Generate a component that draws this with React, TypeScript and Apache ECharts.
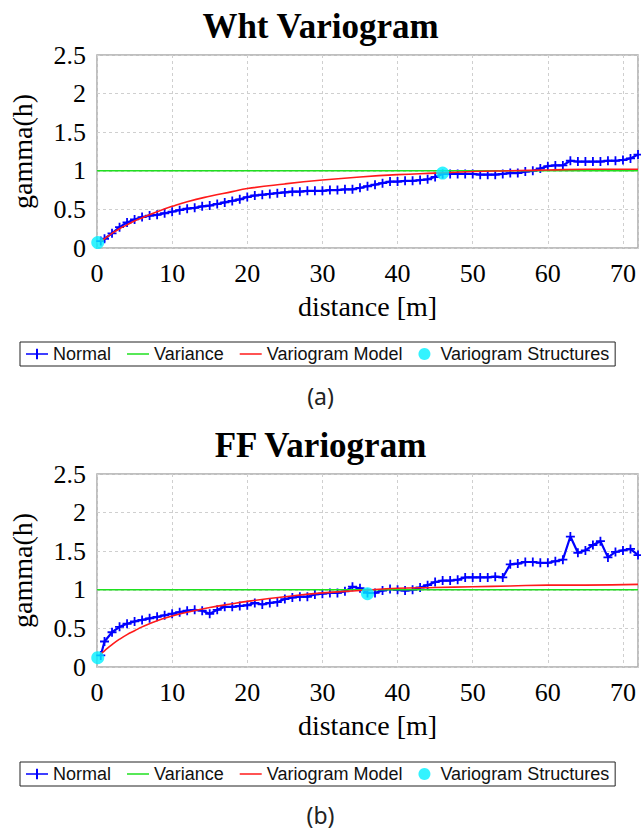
import React, { useEffect, useRef } from "react";
import * as echarts from "echarts";

// Lag distances [m] of the experimental variograms
const lags = [
  0.5, 1, 2, 3, 4, 5, 6, 7, 8, 9, 10, 11, 12, 13, 14, 15, 16, 17, 18, 19, 20,
  21, 22, 23, 24, 25, 26, 27, 28, 29, 30, 31, 32, 33, 34, 35, 36, 37, 38, 39, 40,
  41, 42, 43, 44, 45, 46, 47, 48, 49, 50, 51, 52, 53, 54, 55, 56, 57, 58, 59, 60,
  61, 62, 63, 64, 65, 66, 67, 68, 69, 70, 71, 72,
];

// Experimental (normal-score) variogram values
const whtNormal = [
  0.09, 0.12, 0.19, 0.27, 0.33, 0.37, 0.4, 0.42, 0.43, 0.45, 0.47,
  0.49, 0.51, 0.52, 0.54, 0.55, 0.57, 0.59, 0.61, 0.63, 0.66,
  0.68, 0.69, 0.7, 0.71, 0.72, 0.73, 0.73, 0.74, 0.74, 0.74,
  0.75, 0.75, 0.76, 0.76, 0.78, 0.8, 0.82, 0.84, 0.86, 0.86,
  0.87, 0.87, 0.88, 0.89, 0.92, 0.96, 0.96, 0.96, 0.96, 0.96,
  0.95, 0.95, 0.95, 0.96, 0.97, 0.97, 0.99, 1.0, 1.03, 1.06,
  1.07, 1.07, 1.13, 1.12, 1.12, 1.12, 1.12, 1.13, 1.13, 1.14, 1.16, 1.21,
];

const ffNormal = [
  0.15, 0.33, 0.45, 0.52, 0.56, 0.59, 0.61, 0.63, 0.65, 0.67, 0.69,
  0.71, 0.73, 0.74, 0.73, 0.69, 0.74, 0.78, 0.78, 0.79, 0.8,
  0.83, 0.81, 0.83, 0.84, 0.88, 0.9, 0.91, 0.91, 0.94, 0.95,
  0.96, 0.96, 0.98, 1.04, 1.02, 0.96, 0.96, 0.99, 1.01, 1.0,
  0.99, 1.0, 1.03, 1.06, 1.1, 1.12, 1.12, 1.13, 1.16, 1.16,
  1.16, 1.16, 1.17, 1.16, 1.33, 1.34, 1.36, 1.36, 1.35, 1.35,
  1.37, 1.39, 1.69, 1.48, 1.51, 1.58, 1.63, 1.42, 1.49, 1.51, 1.53, 1.45,
];

// Fitted variogram models, sampled along the distance axis
const modelLags = [0.5, 1, 2, 3, 4, 5, 6, 8, 10, 12, 15, 18, 20, 25, 30, 35, 40, 45, 50, 55, 60, 65, 72];
const whtModel = [0.09, 0.12, 0.19, 0.25, 0.3, 0.35, 0.39, 0.47, 0.54, 0.6, 0.67, 0.73, 0.77, 0.83, 0.88, 0.92, 0.95, 0.97, 0.99, 1.0, 1.01, 1.02, 1.02];
const ffModel = [0.17, 0.21, 0.29, 0.36, 0.42, 0.47, 0.52, 0.6, 0.66, 0.71, 0.77, 0.82, 0.85, 0.91, 0.96, 0.99, 1.02, 1.03, 1.04, 1.05, 1.06, 1.06, 1.07];

// Sill (variance) lines
const varianceRange = [0, 72];
const whtVariance = 1.0;
const ffVariance = 1.0;

// Variogram structure points [distance, gamma]
const whtStructures = [[0.1, 0.07], [46, 0.97]];
const ffStructures = [[0.1, 0.12], [36, 0.95]];

const titles = ["Wht Variogram", "FF Variogram"];
const captions = ["(a)", "(b)"];
const legendNames = ["Normal", "Variance", "Variogram Model", "Variogram Structures"];

const SERIF = "'Liberation Serif', 'Times New Roman', serif";
const SANS = "'Liberation Sans', Arial, sans-serif";
const PLUS = "path://M4,0H6V4H10V6H6V10H4V6H0V4H4Z";
// Legend glyphs: a short line, and a short line crossed by a tick
const LINE_ICON = "path://M0,0H44V3H0Z";
const PLUS_LINE_ICON = "path://M0,9H44V12H0Z M20,0H24V21H20Z";

const pair = (xs: number[], ys: number[]) => xs.map((x, i) => [x, ys[i]]);

function axesFor(idx: number) {
  const xAxis = {
    type: "value",
    gridIndex: idx,
    min: 0,
    max: 72,
    interval: 10,
    axisLine: { show: false },
    axisTick: { show: false },
    splitLine: { show: true, lineStyle: { color: "#cfcfcf", type: [3, 3], width: 1 } },
    axisLabel: {
      color: "#000",
      fontFamily: SERIF,
      fontSize: 26,
      margin: 12,
      formatter: (v: number) => (v % 10 === 0 ? String(v) : ""),
    },
    name: "distance [m]",
    nameLocation: "middle",
    nameGap: 44,
    nameTextStyle: { color: "#000", fontFamily: SERIF, fontSize: 28 },
  };
  const yAxis = {
    type: "value",
    gridIndex: idx,
    min: 0,
    max: 2.5,
    interval: 0.5,
    axisLine: { show: false },
    axisTick: { show: false },
    splitLine: { show: true, lineStyle: { color: "#cfcfcf", type: [3, 3], width: 1 } },
    axisLabel: { color: "#000", fontFamily: SERIF, fontSize: 26, margin: 11 },
    name: "gamma(h)",
    nameLocation: "middle",
    nameGap: 61,
    nameTextStyle: { color: "#000", fontFamily: SERIF, fontSize: 28 },
  };
  return { xAxis, yAxis };
}

function seriesFor(idx: number, normal: number[], model: number[], variance: number, structures: number[][]) {
  return [
    {
      name: "Normal",
      type: "line",
      xAxisIndex: idx,
      yAxisIndex: idx,
      data: pair(lags, normal),
      symbol: PLUS,
      symbolSize: 9,
      showAllSymbol: true,
      lineStyle: { color: "#0000ff", width: 2.2 },
      itemStyle: { color: "#0000ff" },
      z: 2,
    },
    {
      name: "Variance",
      type: "line",
      xAxisIndex: idx,
      yAxisIndex: idx,
      data: varianceRange.map((x) => [x, variance]),
      symbol: "none",
      lineStyle: { color: "#1fe01f", width: 1.6 },
      itemStyle: { color: "#1fe01f" },
      z: 3,
    },
    {
      name: "Variogram Model",
      type: "line",
      xAxisIndex: idx,
      yAxisIndex: idx,
      data: pair(modelLags, model),
      smooth: true,
      symbol: "none",
      lineStyle: { color: "#ff1a1a", width: 1.6 },
      itemStyle: { color: "#ff1a1a" },
      z: 4,
    },
    {
      name: "Variogram Structures",
      type: "scatter",
      xAxisIndex: idx,
      yAxisIndex: idx,
      data: structures,
      symbol: "circle",
      symbolSize: 13,
      itemStyle: { color: "#00f0ff" },
      z: 5,
    },
  ];
}

function legendAt(top: number) {
  return {
    data: [
      { name: legendNames[0], icon: PLUS_LINE_ICON, itemStyle: { color: "#0000ff" } },
      { name: legendNames[1], icon: LINE_ICON, itemStyle: { color: "#1fe01f" } },
      { name: legendNames[2], icon: LINE_ICON, itemStyle: { color: "#ff1a1a" } },
      { name: legendNames[3], icon: "circle", itemStyle: { color: "#00f0ff" } },
    ],
    left: 20,
    top,
    orient: "horizontal",
    itemWidth: 22,
    itemHeight: 12,
    itemGap: 16,
    padding: [3, 6],
    borderColor: "#222",
    borderWidth: 1,
    selectedMode: false,
    textStyle: { color: "#111", fontFamily: SANS, fontSize: 18 },
  };
}

export default function App() {
  const ref = useRef<HTMLDivElement>(null);

  useEffect(() => {
    if (!ref.current) return;
    const chart = echarts.init(ref.current, undefined, { renderer: "svg" });
    const a0 = axesFor(0);
    const a1 = axesFor(1);
    const gridStyle = { show: true, borderColor: "#aaaaaa", borderWidth: 1.5, backgroundColor: "#fff" };
    const titleStyle = { fontFamily: SERIF, fontSize: 35, fontWeight: "bold", color: "#000" };
    const captionStyle = { fontFamily: "'Noto Sans', sans-serif", fontSize: 23, fontWeight: "normal", color: "#222" };

    chart.setOption({
      animation: false,
      backgroundColor: "#fff",
      title: [
        { text: titles[0], left: "center", top: 9, padding: 0, textStyle: titleStyle },
        { text: titles[1], left: "center", top: 428, padding: 0, textStyle: titleStyle },
        { text: captions[0], left: "center", top: 384, padding: 0, textStyle: captionStyle },
        { text: captions[1], left: "center", top: 803, padding: 0, textStyle: captionStyle },
      ],
      legend: [legendAt(342), legendAt(762)],
      grid: [
        { left: 94, top: 55, width: 544, height: 193, ...gridStyle },
        { left: 94, top: 474, width: 544, height: 193, ...gridStyle },
      ],
      xAxis: [a0.xAxis, a1.xAxis],
      yAxis: [a0.yAxis, a1.yAxis],
      series: [
        ...seriesFor(0, whtNormal, whtModel, whtVariance, whtStructures),
        ...seriesFor(1, ffNormal, ffModel, ffVariance, ffStructures),
      ],
    });

    return () => chart.dispose();
  }, []);

  return (
    <div
      ref={ref}
      style={{ position: "absolute", left: 0, top: 0, width: 641, height: 834, background: "#fff" }}
    />
  );
}
